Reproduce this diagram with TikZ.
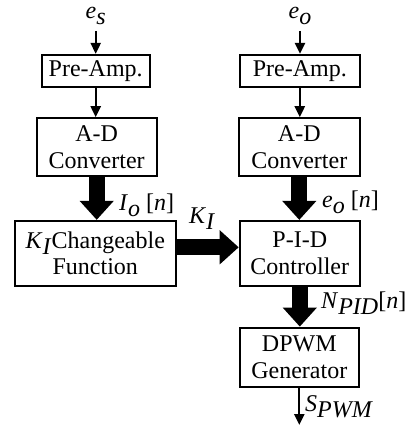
\documentclass[tikz,border=0pt]{standalone}
\usepackage{fontspec}
\setmainfont{Liberation Serif}
\usetikzlibrary{arrows.meta}

\newcommand{\lowsub}[1]{\raisebox{-0.27em}{\textit{#1}}}

\begin{document}
\begin{tikzpicture}[x=1pt, y=-1pt, font=\fontsize{24}{26.5}\selectfont,
	block/.style={draw, line width=2.2pt, inner sep=0pt, align=center},
	sig/.style={line width=2.2pt, -{Triangle[width=10pt,length=11pt]}},
	bus/.style={line width=16pt, -{Triangle[width=33pt,length=19pt]}},
	lab/.style={inner sep=0pt, anchor=base west}]
		\useasboundingbox (0,0) rectangle (411,429);

		\node (prel) [block, minimum width=108pt, minimum height=32pt] at (95.7,71) {Pre-Amp.};
		\node (prer) [block, minimum width=120pt, minimum height=32pt] at (299.8,71) {Pre-Amp.};
		\node (adl) [block, minimum width=120pt, minimum height=58pt] at (96.7,147.3) {A-D\\Converter};
		\node (adr) [block, minimum width=121pt, minimum height=58pt] at (299.3,147.3) {A-D\\Converter};
		\node (kfun) [block, minimum width=160.7pt, minimum height=64.7pt] at (95.3,253.3) {\textit{K}\lowsub{I}Changeable\\Function};
		\node (pid) [block, minimum width=120pt, minimum height=65pt] at (299.8,253.5) {P-I-D\\Controller};
		\node (dpwm) [block, minimum width=119pt, minimum height=59.6pt] at (299.3,357.5) {DPWM\\Generator};

		\node (es) [inner sep=0pt, anchor=base] at (95.7,18) {\textit{e}\lowsub{s}};
		\node (eo) [inner sep=0pt, anchor=base] at (300,18) {\textit{e}\lowsub{o}};
		\coordinate (out) at (300,425);

		\draw[sig] ([yshift=-6pt]es.south) -- (es.south |- prel.north);
		\draw[sig] ([yshift=-6pt]eo.south) -- (eo.south |- prer.north);
		\draw[sig] (prel.south) -- (prel.south |- adl.north);
		\draw[sig] (prer.south) -- (prer.south |- adr.north);

		\draw[bus] (adl.south) -- (adl.south |- kfun.north);
		\node (lio) [lab] at (119,210) {\textit{I}\lowsub{o} [\textit{n}]};
		\draw[bus] (adr.south) -- (adr.south |- pid.north);
		\node (leo) [lab] at (322,207) {\textit{e}\lowsub{o} [\textit{n}]};

		\draw[bus] ([yshift=6pt]kfun.east) -- ([yshift=6pt]kfun.east -| pid.west);
		\node (lki) [lab] at (189,223) {\textit{K}\lowsub{I}};

		\draw[bus] (pid.south) -- (pid.south |- dpwm.north);
		\node (lnp) [lab] at (321,308) {\textit{N}\lowsub{PID}[\textit{n}]};

		\draw[sig] (dpwm.south) -- (dpwm.south |- out);
		\node (lsp) [lab] at (305,411.5) {\textit{S}\lowsub{PWM}};

	\end{tikzpicture}
\end{document}
